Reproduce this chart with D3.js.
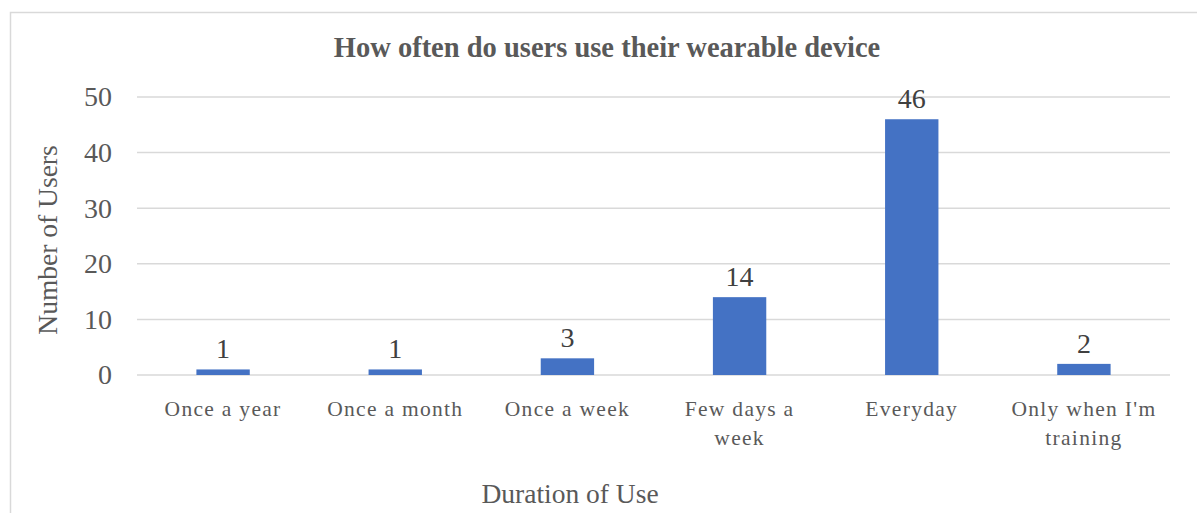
<!DOCTYPE html>
<html>
<head>
<meta charset="utf-8">
<script src="https://cdn.jsdelivr.net/npm/d3@7"></script>
<style>
  html, body { margin: 0; padding: 0; background: #fff; }
  svg { display: block; }
  text { font-family: "Liberation Serif", "DejaVu Serif", serif; }
</style>
</head>
<body>
<svg id="chart" width="1197" height="513"></svg>
<script>
// Survey responses: frequency of wearable device use
const categories = ["Once a year", "Once a month", "Once a week", "Few days a week", "Everyday", "Only when I'm training"];
const users = [1, 1, 3, 14, 46, 2];
const yTicks = [0, 10, 20, 30, 40, 50];

const chartTitle = "How often do users use their wearable device";
const xTitle = "Duration of Use";
const yTitle = "Number of Users";

const W = 1197, H = 513;
const plot = { left: 137, right: 1170, top: 97, bottom: 375 };

const svg = d3.select("#chart");

// chart area frame
svg.append("rect")
  .attr("x", 10.5).attr("y", 12.5)
  .attr("width", W + 20).attr("height", H + 20)
  .attr("fill", "#fff")
  .attr("stroke", "#d9d9d9").attr("stroke-width", 1.5);

const x = d3.scaleBand().domain(categories).range([plot.left, plot.right]).paddingInner(0.69).paddingOuter(0.345);
const y = d3.scaleLinear().domain([0, 50]).range([plot.bottom, plot.top]);

// gridlines
svg.append("g").selectAll("line").data(yTicks).join("line")
  .attr("x1", plot.left).attr("x2", plot.right)
  .attr("y1", d => y(d)).attr("y2", d => y(d))
  .attr("stroke", "#d9d9d9").attr("stroke-width", 1.5);

// y axis tick labels
const yAxis = d3.axisLeft(y).tickValues(yTicks).tickSize(0).tickPadding(0);
const gy = svg.append("g").attr("transform", `translate(${plot.left - 25},0)`).call(yAxis);
gy.select(".domain").remove();
gy.selectAll("text")
  .attr("fill", "#595959")
  .style("font-family", "'Liberation Serif', serif")
  .style("font-size", "28px");

// bars
svg.append("g").selectAll("rect").data(users).join("rect")
  .attr("x", (d, i) => x(categories[i]))
  .attr("width", x.bandwidth())
  .attr("y", d => y(d))
  .attr("height", d => y(0) - y(d))
  .attr("fill", "#4472c4");

// value labels
svg.append("g").selectAll("text").data(users).join("text")
  .attr("x", (d, i) => x(categories[i]) + x.bandwidth() / 2)
  .attr("y", d => y(d) - 11)
  .attr("text-anchor", "middle")
  .attr("fill", "#404040")
  .style("font-size", "28px")
  .text(d => d);

// category labels, wrapped to the band width
const xAxis = d3.axisBottom(x).tickSize(0).tickPadding(0);
const gx = svg.append("g").attr("transform", `translate(0,${plot.bottom})`).call(xAxis);
gx.select(".domain").remove();
gx.selectAll("text")
  .attr("fill", "#595959")
  .attr("y", 0)
  .attr("dy", 0)
  .style("font-family", "'Liberation Serif', serif")
  .style("font-size", "21.5px")
  .style("letter-spacing", "1.3px")
  .each(function (d) {
    const t = d3.select(this);
    const words = d.split(" ");
    const maxW = 152;
    t.text(null);
    let line = [];
    let lineNo = 0;
    let tspan = t.append("tspan").attr("x", 0).attr("y", 41);
    words.forEach(w => {
      line.push(w);
      tspan.text(line.join(" "));
      if (tspan.node().getComputedTextLength() > maxW && line.length > 1) {
        line.pop();
        tspan.text(line.join(" "));
        line = [w];
        lineNo++;
        tspan = t.append("tspan").attr("x", 0).attr("y", 41 + lineNo * 29).text(w);
      }
    });
  });

// chart title
svg.append("text")
  .attr("x", 607).attr("y", 57)
  .attr("text-anchor", "middle")
  .attr("fill", "#595959")
  .style("font-size", "28.5px")
  .style("font-weight", "bold")
  .text(chartTitle);

// axis titles
svg.append("text")
  .attr("x", 570).attr("y", 503)
  .attr("text-anchor", "middle")
  .attr("fill", "#595959")
  .style("font-size", "27.5px")
  .text(xTitle);

svg.append("text")
  .attr("transform", "translate(57,240) rotate(-90)")
  .attr("text-anchor", "middle")
  .attr("fill", "#595959")
  .style("font-size", "27.5px")
  .text(yTitle);
</script>
</body>
</html>
